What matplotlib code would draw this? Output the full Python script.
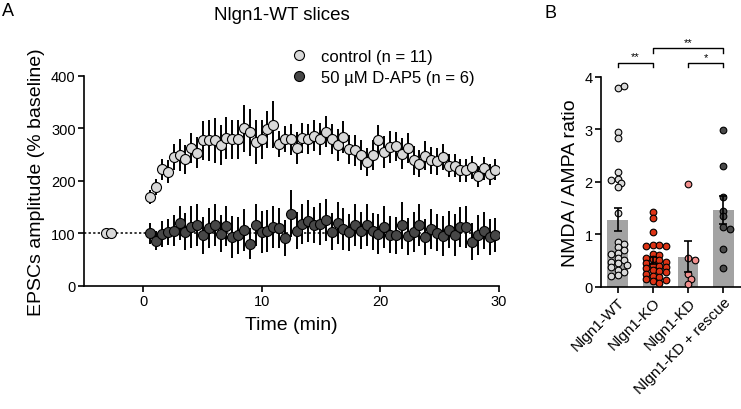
import numpy as np
import matplotlib
matplotlib.use('Agg')
import matplotlib.pyplot as plt
from matplotlib.lines import Line2D

plt.rcParams['font.family'] = ['Liberation Sans', 'DejaVu Sans']

# ---- panel A data (EPSC amplitude, % baseline) ----
base_t = [-3.15, -2.7]
base_v = [100, 100]

t = np.linspace(0.6, 29.7, 60)  # sweep times (min)

ctrl = [169, 188, 222, 217, 245, 249, 241, 263, 254, 277,
        277, 277, 269, 282, 279, 279, 300, 293, 274, 279,
        298, 307, 270, 280, 279, 263, 282, 280, 286, 280,
        294, 280, 268, 284, 260, 258, 249, 236, 249, 277,
        255, 265, 266, 252, 263, 239, 233, 248, 239, 237,
        245, 229, 229, 220, 220, 226, 209, 224, 213, 221]
ctrl_err = [14, 15, 20, 22, 25, 30, 28, 28, 30, 38,
            40, 42, 38, 40, 38, 38, 45, 45, 42, 38,
            35, 45, 25, 25, 30, 30, 28, 28, 30, 30,
            30, 28, 30, 30, 28, 30, 28, 26, 28, 30,
            30, 30, 28, 30, 28, 28, 25, 28, 25, 25,
            25, 22, 22, 22, 22, 22, 20, 22, 20, 20]

dap5 = [100, 86, 99, 103, 105, 120, 103, 112, 116, 96,
        110, 115, 99, 114, 93, 96, 107, 80, 115, 102,
        105, 112, 110, 91, 137, 105, 118, 124, 116, 118,
        126, 103, 120, 108, 102, 116, 105, 116, 104, 99,
        112, 97, 96, 115, 94, 103, 115, 93, 108, 101,
        94, 107, 97, 112, 112, 84, 96, 105, 93, 97]
dap5_err = [20, 18, 25, 25, 30, 32, 35, 40, 40, 35,
            38, 40, 35, 38, 40, 35, 40, 30, 40, 40,
            40, 40, 38, 35, 45, 35, 38, 40, 35, 40,
            40, 35, 40, 40, 35, 40, 35, 40, 35, 38,
            40, 35, 35, 45, 35, 38, 40, 35, 38, 35,
            38, 35, 40, 38, 40, 35, 38, 35, 35, 32]

# ---- panel B data (NMDA/AMPA ratio) ----
groups = ['Nlgn1-WT', 'Nlgn1-KO', 'Nlgn1-KD', 'Nlgn1-KD + rescue']
wt = [3.78, 3.83, 2.94, 2.83, 2.18, 2.06, 1.97, 2.03, 1.89, 1.40,
      0.85, 0.82, 0.75, 0.70, 0.65, 0.62, 0.55, 0.50, 0.48, 0.45,
      0.42, 0.38, 0.32, 0.28, 0.22, 0.20]
ko = [1.42, 1.30, 1.05, 0.80, 0.80, 0.78, 0.78, 0.62, 0.60, 0.55,
      0.52, 0.50, 0.48, 0.45, 0.42, 0.40, 0.38, 0.35, 0.32, 0.30,
      0.28, 0.25, 0.20, 0.18, 0.15, 0.12, 0.10, 0.08]
kd = [1.96, 0.55, 0.50, 0.24, 0.15, 0.05]
rescue = [2.98, 2.30, 1.70, 1.45, 1.35, 1.13, 1.10, 0.72, 0.35]
group_vals = [wt, ko, kd, rescue]
group_colors = ['#d9d9d9', '#dc3315', '#f28e8c', '#4a4a4a']


def swarm(vals, px_x, px_y, diam):
    # simple beeswarm: x offsets (data units) so dots don't overlap too much
    placed = []
    offs = []
    step = diam * 0.5
    for v in vals:
        y = v * px_y
        k = 0
        while True:
            sign = 1 if k % 2 else -1
            dx = 0 if k == 0 else sign * ((k + 1) // 2) * step
            if all((dx - px) ** 2 + (y - py) ** 2 >= (diam * 0.78) ** 2 for px, py in placed):
                break
            k += 1
        placed.append((dx, y))
        offs.append(dx / px_x)
    return np.array(offs)


fig = plt.figure(figsize=(7.41, 4.10), dpi=100)

# ================= panel A =================
axA = fig.add_axes([84 / 741, 1 - 286.7 / 410, 415 / 741, 209.7 / 410])
axA.plot([-5, 30], [100, 100], ls=(0, (1.5, 1.5)), color='black', lw=1.1, zorder=1)
axA.errorbar(t, ctrl, yerr=ctrl_err, fmt='none', ecolor='black', elinewidth=1.4, capsize=0, zorder=2)
axA.errorbar(t, dap5, yerr=dap5_err, fmt='none', ecolor='black', elinewidth=1.4, capsize=0, zorder=2)
axA.plot(t, ctrl, 'o', ms=7.2, mfc='#d9d9d9', mec='black', mew=0.8, zorder=3)
axA.plot(t, dap5, 'o', ms=7.2, mfc='#474747', mec='black', mew=0.8, zorder=4)
axA.plot(base_t, base_v, 'o', ms=7.2, mfc='#d9d9d9', mec='black', mew=0.8, zorder=4)

axA.set_xlim(-5, 30)
axA.set_ylim(0, 400)
axA.set_xticks([0, 10, 20, 30])
axA.set_yticks([0, 100, 200, 300, 400])
axA.set_xlabel('Time (min)', fontsize=14, labelpad=6)
axA.set_ylabel('EPSCs amplitude (% baseline)', fontsize=14, labelpad=4)

handles = [Line2D([], [], ls='none', marker='o', ms=7.2, mfc='#d9d9d9', mec='black', mew=0.8),
           Line2D([], [], ls='none', marker='o', ms=7.2, mfc='#474747', mec='black', mew=0.8)]
axA.legend(handles, ['control (n = 11)', '50 µM D-AP5 (n = 6)'], frameon=False, fontsize=12,
           loc='upper left', bbox_to_anchor=(0.475, 1.17), borderpad=0, handlelength=1.2,
           handletextpad=0.7, labelspacing=0.35)

# ================= panel B =================
axB = fig.add_axes([601 / 741, 1 - 287.7 / 410, 140 / 741, 210 / 410])
xs = np.arange(len(groups))
means = [np.mean(v) for v in group_vals]
sems = [np.std(v, ddof=1) / np.sqrt(len(v)) for v in group_vals]
axB.bar(xs, means, width=0.58, color='#a3a3a3', zorder=1)
px_x, px_y = 35.3, 52.5
for i, (vals, col) in enumerate(zip(group_vals, group_colors)):
    off = swarm(vals, px_x, px_y, 6.6)
    axB.plot(i + off, vals, 'o', ms=4.8, mfc=col, mec='black', mew=0.8, zorder=3, clip_on=False)
axB.errorbar(xs, means, yerr=sems, fmt='none', ecolor='black', elinewidth=1.2, capsize=3, capthick=1.2, zorder=4)

axB.set_xlim(-0.47, 3.5)
axB.set_ylim(0, 4)
axB.set_yticks([0, 1, 2, 3, 4])
axB.set_xticks(xs)
axB.set_xticklabels(groups, rotation=45, ha='right', va='top', rotation_mode='anchor', fontsize=11)
axB.set_ylabel('NMDA / AMPA ratio', fontsize=14, labelpad=4)

# significance brackets
brackets = [(0, 1, 4.27, '**'), (1, 3, 4.54, '**'), (2, 3, 4.26, '*')]
for x0, x1, y, s in brackets:
    axB.plot([x0, x0, x1, x1], [y - 0.08, y, y, y - 0.08], color='black', lw=1.0, clip_on=False)
    axB.text((x0 + x1) / 2, y + 0.02, s, ha='center', va='bottom', fontsize=8)

for ax in (axA, axB):
    for side in ('top', 'right'):
        ax.spines[side].set_visible(False)
    for side in ('left', 'bottom'):
        ax.spines[side].set_linewidth(1.2)
    ax.tick_params(direction='out', length=4, width=1.2, labelsize=10.5, pad=2)
axB.tick_params(axis='x', labelsize=11)

fig.text(282 / 741, 1 - 16 / 410, 'Nlgn1-WT slices', ha='center', va='center', fontsize=13.5)
fig.text(2 / 741, 1 - 11 / 410, 'A', ha='left', va='center', fontsize=13)
fig.text(545 / 741, 1 - 13 / 410, 'B', ha='left', va='center', fontsize=13)

fig.savefig('out.png', dpi=100)
